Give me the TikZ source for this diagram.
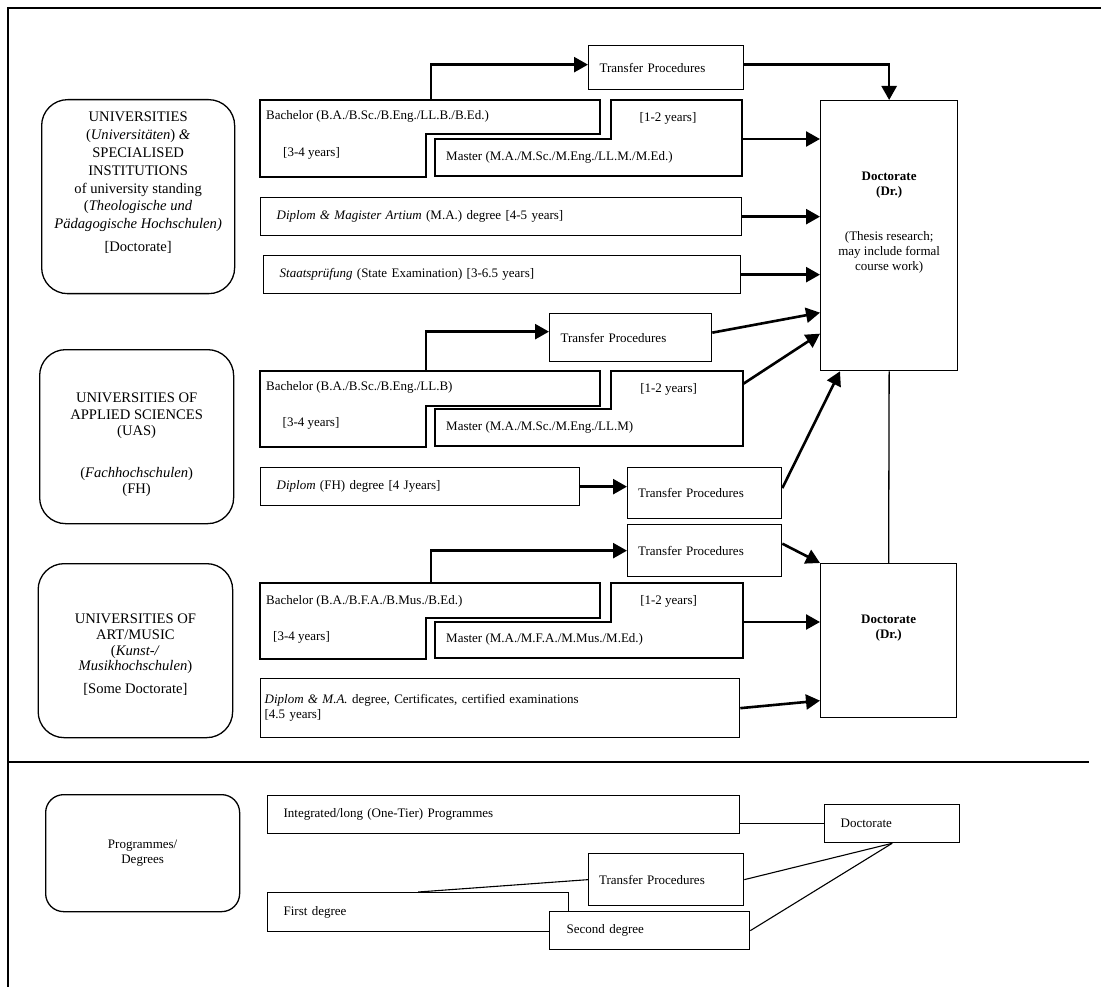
\documentclass[tikz,border=0pt]{standalone}
\usepackage{fontspec}
\setmainfont{Liberation Serif}
\usetikzlibrary{arrows.meta,positioning}

\begin{document}
\begin{tikzpicture}[x=1pt, y=-1pt, font=\fontsize{13}{15}\selectfont,
    stage/.style={draw, line width=1.3pt, anchor=north west, align=left, inner xsep=16pt, inner ysep=0pt},
    transfer/.style={stage, inner xsep=11pt},
    degree/.style={draw, line width=1.3pt, anchor=north west},
    institution/.style={draw, line width=1.3pt, rounded corners=26pt, anchor=north west, align=center},
    caption/.style={align=center, inner sep=0pt, font=\fontsize{14.6}{17.8}\selectfont},
    txt/.style={anchor=west, inner sep=0pt},
    lshape/.style={line width=1.3pt},
    flow/.style={line width=2.6pt, -{Triangle[length=14pt,width=15pt]}},
    link/.style={line width=1.1pt}]
    \useasboundingbox (0,0) rectangle (1101,987);

    % frame
    \draw[lshape] (8,987) -- (8,8) -- (1101,8);
    \draw[lshape] (8,762) -- (1089,762);

    % universities
    \node[institution, minimum width=193pt, minimum height=194pt] (uni) at (41,99) {};
    \node[caption, below=13pt of uni.north] (unitxt) {UNIVERSITIES\\(\textit{Universitäten}) \textit{\&}\\SPECIALISED\\INSTITUTIONS\\of university standing\\(\textit{Theologische und}\\\textit{Pädagogische Hochschulen)}\\[5pt]{[Doctorate]}};

    \draw[lshape] (260,100) -- (600,100) -- (600,134) -- (426,134) -- (426,177) -- (260,177) -- cycle;
    \draw[lshape] (435,139) -- (611,139) -- (611,100) -- (742,100) -- (742,176) -- (435,176) -- cycle;
    \node[txt] (bach1) at (266,116) {Bachelor (B.A./B.Sc./B.Eng./LL.B./B.Ed.)};
    \node[txt] (bachyrs1) at (283,153) {[3-4 years]};
    \node[inner sep=0pt] (mastyrs1) at (668,118) {[1-2 years]};
    \node[txt] (mast1) at (446,157) {Master (M.A./M.Sc./M.Eng./LL.M./M.Ed.)};
    \coordinate (ba1) at (431,100);
    \coordinate (ma1) at (742,139);

    \node[transfer, text width=133pt, minimum height=44pt] (tp1) at (588,45) {Transfer Procedures};
    \node[stage, text width=449pt, minimum height=38pt] (dip1) at (260,197) {\textit{Diplom \& Magister Artium} (M.A.) degree [4-5 years]};
    \node[stage, inner xsep=16.5pt, text width=444.5pt, minimum height=38pt] (st1) at (262.5,255) {\textit{Staatsprüfung} (State Examination) [3-6.5 years]};

    \node[degree, minimum width=137pt, minimum height=270pt] (doc1) at (820,100) {};
    \node[align=center, inner sep=0pt, below=72pt of doc1.north] (doc1txt) {\textbf{Doctorate}\\\textbf{(Dr.)}\\[30pt](Thesis research;\\may include formal\\course work)};

    \draw[flow] (ba1) |- ([yshift=3pt]tp1.west);
    \draw[flow] ([yshift=3pt]tp1.east) -| (doc1.north);
    \draw[flow] (ma1) -- (ma1 -| doc1.west);
    \draw[flow] (dip1.east) -- (dip1.east -| doc1.west);
    \draw[flow] (st1.east) -- (st1.east -| doc1.west);

    % universities of applied sciences
    \node[institution, minimum width=194pt, minimum height=174pt] (uas) at (39,349) {};
    \node[caption, below=44pt of uas.north, font=\fontsize{14.6}{16.5}\selectfont] (uastxt) {UNIVERSITIES OF\\APPLIED SCIENCES\\(UAS)\\[25pt](\textit{Fachhochschulen})\\(FH)};

    \draw[lshape] (260,371) -- (600,371) -- (600,406) -- (426,406) -- (426,447) -- (260,447) -- cycle;
    \draw[lshape] (435,409) -- (611,409) -- (611,371) -- (743,371) -- (743,446) -- (435,446) -- cycle;
    \node[txt] (bach2) at (266,387) {Bachelor (B.A./B.Sc./B.Eng./LL.B)};
    \node[txt] (bachyrs2) at (282.5,423) {[3-4 years]};
    \node[inner sep=0pt] (mastyrs2) at (668.6,389) {[1-2 years]};
    \node[txt] (mast2) at (446,427) {Master (M.A./M.Sc./M.Eng./LL.M)};
    \coordinate (ba2) at (426,371);
    \coordinate (ma2) at (743,384);

    \node[transfer, text width=140pt, minimum height=48pt] (tp2) at (549,313) {Transfer Procedures};
    \node[stage, text width=287pt, minimum height=38pt] (dfh) at (260,467) {\textit{Diplom} (FH) degree [4 Jyears]};
    \node[transfer, inner xsep=10.5pt, text width=133pt, minimum height=51pt] (tp3) at (627,467) {Transfer Procedures};

    \draw[flow] (ba2) |- ([yshift=6pt]tp2.west);
    \draw[flow] ([yshift=5pt]tp2.east) -- ([yshift=-77pt]doc1.west);
    \draw[flow] (ma2) -- ([yshift=-98pt]doc1.west);
    \draw[flow] (dfh.east) -- (dfh.east -| tp3.west);
    \draw[flow] ([yshift=5pt]tp3.east) -- ([xshift=20pt]doc1.south west);

    % universities of art/music
    \node[institution, minimum width=194.5pt, minimum height=174pt] (art) at (37.5,563) {};
    \node[caption, below=51pt of art.north, font=\fontsize{14.6}{15.7}\selectfont] (arttxt) {UNIVERSITIES OF\\ART/MUSIC\\(\textit{Kunst-/}\\\textit{Musikhochschulen})\\[7pt]{[Some Doctorate]}};

    \draw[lshape] (260,583) -- (600,583) -- (600,618) -- (426,618) -- (426,659) -- (260,659) -- cycle;
    \draw[lshape] (435,622) -- (611,622) -- (611,583) -- (743,583) -- (743,658) -- (435,658) -- cycle;
    \node[txt] (bach3) at (266,601) {Bachelor (B.A./B.F.A./B.Mus./B.Ed.)};
    \node[txt] (bachyrs3) at (273,637) {[3-4 years]};
    \node[inner sep=0pt] (mastyrs3) at (668.6,601) {[1-2 years]};
    \node[txt] (mast3) at (446,639) {Master (M.A./M.F.A./M.Mus./M.Ed.)};
    \coordinate (ba3) at (431,583);
    \coordinate (ma3) at (743,622);

    \node[transfer, inner xsep=10.5pt, text width=133pt, minimum height=52pt] (tp4) at (627,524) {Transfer Procedures};
    \node[stage, inner xsep=4pt, text width=471pt, minimum height=59pt] (dip3) at (260,678) {\textit{Diplom \& M.A.} degree, Certificates, certified examinations\\{[4.5 years]}};

    \node[degree, minimum width=136pt, minimum height=154pt] (doc2) at (820,563) {};
    \node[align=center, inner sep=0pt, below=52pt of doc2.north] (doc2txt) {\textbf{Doctorate}\\\textbf{(Dr.)}};

    \draw[lshape] (doc1.south) -- (doc2.north);
    \draw[flow] (ba3) |- (tp4.west);
    \draw[flow] ([yshift=7pt]tp4.east) -- (doc2.north west);
    \draw[flow] (ma3) -- (ma3 -| doc2.west);
    \draw[flow] (dip3.east) -- ([yshift=-60pt]doc2.west);

    % key
    \node[institution, rounded corners=18pt, minimum width=194pt, minimum height=117pt] (prog) at (45,794) {Programmes/\\Degrees};
    \node[stage, text width=440pt, minimum height=38pt] (intg) at (267,795) {Integrated/long (One-Tier) Programmes};
    \node[stage, text width=103pt, minimum height=38pt] (docl) at (824,804) {Doctorate};
    \node[stage, text width=269pt, minimum height=39pt] (fst) at (267,892) {First degree};
    \node[stage, fill=white, inner xsep=17pt, text width=166pt, minimum height=38pt] (snd) at (549,911) {Second degree};
    \node[transfer, inner xsep=10.5pt, text width=134pt, minimum height=52pt] (tpl) at (588,853) {Transfer Procedures};

    \draw[link] (docl.west -| intg.east) -- (docl.west);
    \draw[link] (fst.north) -- (tpl.west);
    \draw[link] (tpl.east) -- (docl.south);
    \draw[link] (snd.east) -- (docl.south);
\end{tikzpicture}
\end{document}
